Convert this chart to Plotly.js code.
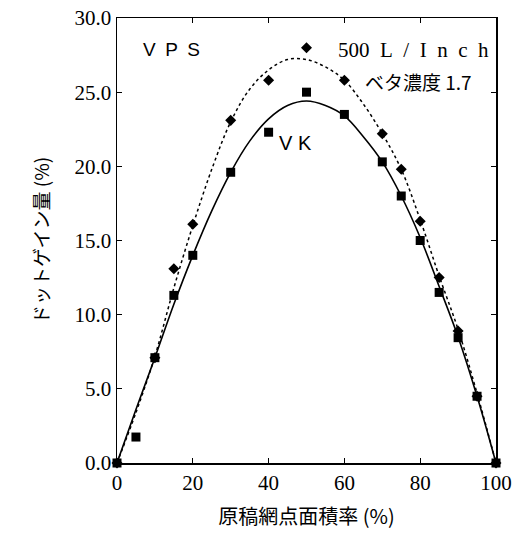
<!DOCTYPE html>
<html>
<head>
<meta charset="utf-8">
<script src="https://cdn.plot.ly/plotly-3.0.1.min.js"></script>
<style>html,body{margin:0;padding:0;background:#fff;}#chart{width:512px;height:538px;}</style>
</head>
<body>
<div id="chart"></div>
<script>
// Measured points
const vkX = [0, 5, 10, 15, 20, 30, 40, 50, 60, 70, 75, 80, 85, 90, 95, 100];
const vkY = [0, 1.75, 7.1, 11.3, 14.0, 19.6, 22.3, 25.0, 23.5, 20.3, 18.0, 15.0, 11.5, 8.45, 4.5, 0];
const vpsX = [0, 10, 15, 20, 30, 40, 50, 60, 70, 75, 80, 85, 90, 95, 100];
const vpsY = [0, 7.1, 13.1, 16.1, 23.1, 25.8, 28.0, 25.8, 22.2, 19.8, 16.3, 12.5, 8.9, 4.5, 0];
// Fitted curves
const vkFitX = [0, 5, 10, 15, 20, 25, 30, 35, 40, 45, 50, 55, 60, 65, 70, 75, 80, 85, 90, 95, 100];
const vkFitY = [0, 3.6, 7.1, 10.7, 14.0, 17.0, 19.6, 21.7, 23.2, 24.1, 24.4, 24.1, 23.4, 22.0, 20.3, 18.0, 15.2, 11.9, 8.5, 4.5, 0];
const vpsFitX = [0, 5, 10, 15, 20, 25, 30, 35, 40, 45, 50, 55, 60, 65, 70, 75, 80, 85, 90, 95, 100];
const vpsFitY = [0, 3.4, 7.2, 11.8, 16.0, 19.8, 23.0, 25.2, 26.5, 27.2, 27.2, 26.7, 25.8, 24.2, 22.2, 19.8, 16.4, 12.6, 9.0, 4.7, 0];

const xTitle = '原稿網点面積率 (%)';
const yTitle = 'ドットゲイン量 (%)';

const traces = [
  {x: vpsFitX, y: vpsFitY, mode: 'lines', line: {color: '#000', width: 1.5, dash: 'dot', shape: 'spline', smoothing: 1}, hoverinfo: 'skip', cliponaxis: false},
  {x: vkFitX, y: vkFitY, mode: 'lines', line: {color: '#000', width: 1.6, shape: 'spline', smoothing: 1}, hoverinfo: 'skip', cliponaxis: false},
  {x: vpsX, y: vpsY, mode: 'markers', marker: {symbol: 'diamond', size: 8.5, color: '#000'}, cliponaxis: false},
  {x: vkX, y: vkY, mode: 'markers', marker: {symbol: 'square', size: 9, color: '#000'}, cliponaxis: false}
];

const layout = {
  width: 512, height: 538,
  margin: {l: 117, r: 16, t: 18, b: 75},
  paper_bgcolor: '#fff', plot_bgcolor: '#fff',
  showlegend: false,
  font: {family: 'Liberation Serif, serif', color: '#000'},
  xaxis: {
    range: [0, 100], dtick: 20, tick0: 0,
    showgrid: false, zeroline: false,
    showline: true, linecolor: '#000', linewidth: 1.5, mirror: 'ticks',
    ticks: 'inside', ticklen: 5, tickcolor: '#000',
    tickfont: {family: 'Liberation Serif, serif', size: 21, color: '#000'},
    title: {text: xTitle, font: {family: 'Noto Sans CJK JP', size: 20, color: '#000'}, standoff: 16}
  },
  yaxis: {
    range: [0, 30], dtick: 5, tick0: 0, tickformat: '.1f',
    showgrid: false, zeroline: false,
    showline: true, linecolor: '#000', linewidth: 1.5, mirror: 'ticks',
    ticks: 'inside', ticklen: 5, tickcolor: '#000',
    tickfont: {family: 'Liberation Serif, serif', size: 21, color: '#000'},
    title: {text: yTitle, font: {family: 'Noto Sans CJK JP', size: 19, color: '#000'}, standoff: 20}
  },
  annotations: [
    {x: 14.5, y: 27.85, xref: 'x', yref: 'y', text: 'V\u2002P\u2002S', showarrow: false,
     font: {family: 'Liberation Sans, Arial, sans-serif', size: 19, color: '#000'}},
    {x: 47, y: 21.6, xref: 'x', yref: 'y', text: 'V K', showarrow: false,
     font: {family: 'Liberation Sans, Arial, sans-serif', size: 20, color: '#000'}},
    {x: 78.3, y: 27.85, xref: 'x', yref: 'y', text: '500\u2002L\u2002/\u2002I\u2002n\u2002c\u2002h', showarrow: false,
     font: {family: 'Liberation Serif, serif', size: 21, color: '#000'}},
    {x: 79.5, y: 25.75, xref: 'x', yref: 'y', text: 'ベタ濃度 1.7', showarrow: false,
     font: {family: 'Noto Sans CJK JP', size: 19, color: '#000'}}
  ]
};

Plotly.newPlot('chart', traces, layout, {displayModeBar: false, staticPlot: true});
</script>
</body>
</html>
